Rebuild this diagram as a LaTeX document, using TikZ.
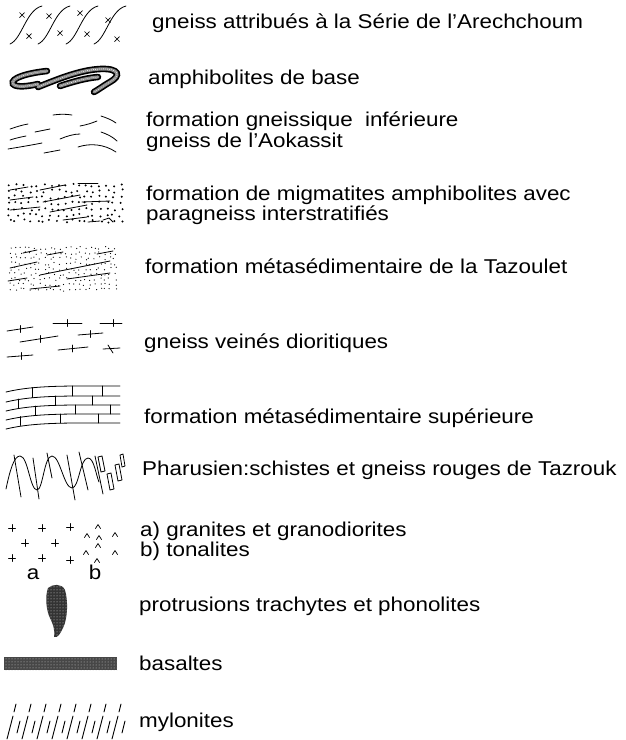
\documentclass[tikz,border=0pt]{standalone}
\usepackage{fontspec}
\setmainfont{Liberation Sans}[FakeStretch=1.12]
\usetikzlibrary{patterns}
\begin{document}
\begin{tikzpicture}[x=1pt,y=-1pt,
  lbl/.style={anchor=base west, inner sep=0pt, font=\fontsize{20}{22}\selectfont},
  sml/.style={anchor=base, inner sep=0pt, font=\fontsize{20}{22}\selectfont},
  sym/.style={line width=0.8pt, line cap=round, line join=round},
  worm/.style={line width=6.5pt, line cap=round, black},
  wormin/.style={line width=3.2pt, line cap=round, black!45},
  stip/.style={line width=0.9pt, line cap=round, white, dash pattern=on 0.01pt off 2pt}]
\useasboundingbox (0,0) rectangle (626,740);
\fill[white] (0,0) rectangle (626,740);

% ---------- 1 gneiss Arechchoum
\foreach \x in {10,38,66,94}
  \draw[sym] (\x,44) .. controls (\x+12,39) and (\x+16,10) .. (\x+32,6);
\foreach \p in {(22,15),(29,36),(49,16),(60,33),(80,13),(87,34),(108,20),(117,39)}
  \draw[sym,line width=0.7pt] \p ++(-2.5,-2.5) -- ++(5,5) \p ++(-2.5,2.5) -- ++(5,-5);

% ---------- 2 amphibolites de base
\foreach \s in {worm,wormin,stip}{
  \draw[\s] (47,71) .. controls (28,73) and (10,78) .. (13,84) .. controls (16,88) and (30,86) .. (38,84);
  \draw[\s] (38,87) .. controls (58,79) and (80,70) .. (100,69) .. controls (120,68) and (121,76) .. (110,82) .. controls (103,86) and (98,90) .. (94,92);
  \draw[\s] (60,86) .. controls (72,82) and (86,78) .. (98,77);
}

% ---------- 3 formation gneissique inferieure
\draw[sym] (10,129) .. controls (16,127) and (22,125) .. (28,124);
\draw[sym] (35,132) -- (50,129);
\draw[sym] (53,115) .. controls (60,114) and (66,114) .. (72,115);
\draw[sym] (80,126) .. controls (86,125) and (92,123) .. (97,121);
\draw[sym] (101,116) .. controls (107,118) and (112,120) .. (116,123);
\draw[sym] (10,140) .. controls (16,138) and (21,137) .. (26,136);
\draw[sym] (60,139) .. controls (67,136) and (74,134) .. (80,134);
\draw[sym] (101,132) .. controls (107,134) and (113,137) .. (117,141);
\draw[sym] (8,149) .. controls (20,147) and (32,145) .. (42,143);
\draw[sym] (44,153) -- (60,150);
\draw[sym] (78,147) .. controls (90,143) and (104,144) .. (116,152);

% ---------- 4 migmatites
\pgfmathsetseed{7}
\foreach \r in {0,...,6}
  \foreach \c in {0,...,16}{
    \pgfmathsetmacro\xx{9+7*\c+2.2*rand}
    \pgfmathsetmacro\yy{185+6*\r+1.6*rand}
    \fill (\xx,\yy) circle (1.1);
  }
\draw[sym] (10,190) -- (28,187);
\draw[sym] (40,190) -- (65,185);
\draw[sym] (78,183) -- (98,183);
\draw[sym] (10,200) -- (33,197);
\draw[sym] (43,202) -- (80,195);
\draw[sym] (82,202) -- (110,201);
\draw[sym] (10,210) -- (40,207);
\draw[sym] (50,212) -- (87,205);
\draw[sym] (63,220) -- (87,217);
\draw[sym] (88,222) -- (100,221);
\draw[sym] (103,220) -- (109,218) -- (113,222);

% ---------- 5 Tazoulet
\pgfmathsetseed{11}
\foreach \r in {0,...,8}
  \foreach \c in {0,...,21}{
    \pgfmathsetmacro\xx{10+5*\c+1.8*rand}
    \pgfmathsetmacro\yy{248+5.2*\r+1.6*rand}
    \fill (\xx,\yy) circle (0.62);
  }
\draw[sym] (23,253) -- (37,250);
\draw[sym] (47,255) -- (63,252);
\draw[sym] (97,254) -- (113,251);
\draw[sym] (10,268) -- (37,262);
\draw[sym] (40,275) -- (110,261);
\draw[sym] (8,281) -- (27,278);
\draw[sym] (67,279) -- (110,273);
\draw[sym] (30,289) -- (60,286);

% ---------- 6 gneiss veines dioritiques
\foreach \a/\b/\c/\d/\tx/\ty in {7/331/33/327/20/329, 53/323/82/323/67/323, 100/323/122/323/113/323,
  20/342/58/336/40/339, 78/335/103/333/90/334, 7/357/33/355/21/356, 58/350/88/347/72/348.5}{
  \draw[sym] (\a,\b) -- (\c,\d);
  \draw[sym] (\tx,\ty-3.5) -- (\tx,\ty+3.5);
}
\draw[sym] (103,349) -- (120,348);
\draw[sym] (108,345) -- (113,353);

% ---------- 7 brick
\foreach \y in {386,396,405,414,423}
  \draw[sym] (6,\y+6) .. controls (35,\y-1) and (70,\y) .. (120,\y);
\foreach \x/\ya/\yb in {32/387.5/397.5, 72/386/396, 102/386/396,
  18/399/408.5, 55/396/405, 92/396/405,
  35/406/415, 75/405/414, 110/405/414,
  20/416.5/425.5, 60/414/423, 98/414/423}
  \draw[sym] (\x,\ya) -- (\x,\yb);

% ---------- 8 Pharusien
\draw[sym] (6,489) .. controls (10,470) and (14,456) .. (20,456)
  .. controls (28,456) and (30,490) .. (37,490)
  .. controls (43,490) and (44,456) .. (52,456)
  .. controls (60,456) and (64,488) .. (72,488)
  .. controls (79,488) and (80,458) .. (88,458)
  .. controls (94,458) and (96,475) .. (99,482);
\foreach \a/\b/\c/\d in {14/455/21/497, 33/458/39/499, 47/453/52/478, 67/455/75/500, 79/452/88/490, 95/456/103/494}
  \draw[sym] (\a,\b) -- (\c,\d);
\draw[sym] (98,457) -- (102,456) -- (105,471) -- (101,472) -- cycle;
\draw[sym] (107,474) -- (111,473) -- (114,489) -- (110,490) -- cycle;
\draw[sym] (115,465) -- (119,464) -- (122,480) -- (118,481) -- cycle;
\draw[sym] (120,455) -- (123,454) -- (125,466) -- (122,467) -- cycle;

% ---------- 9 granites / tonalites
\foreach \p in {(12,528),(42,528),(70,527),(25,543),(55,543),(12,558),(42,558),(70,560)}
  \draw[sym,line width=0.9pt] \p ++(-3.5,0) -- ++(7,0) \p ++(0,-3.5) -- ++(0,7);
\foreach \p in {(87,535),(98,526),(99,537),(115,534),(86,552),(98,545),(115,552),(97,560)}
  \draw[sym,line width=0.7pt] \p ++(-2.5,2.5) -- ++(2.5,-4) -- ++(2.5,4);
\node[sml] (la) at (33,579) {a};
\node[sml] (lb) at (95,579) {b};

% ---------- 10 protrusion
\path[fill=black!80] (48,588) .. controls (52,584) and (62,583) .. (65,590)
  .. controls (68,600) and (68,618) .. (63,628)
  .. controls (60,634) and (58,638) .. (54,637)
  .. controls (55,632) and (54,626) .. (50,618)
  .. controls (46,610) and (45,596) .. (48,588) -- cycle;
\path[pattern=dots, pattern color=white!85!black] (48,588) .. controls (52,584) and (62,583) .. (65,590)
  .. controls (68,600) and (68,618) .. (63,628)
  .. controls (60,634) and (58,638) .. (54,637)
  .. controls (55,632) and (54,626) .. (50,618)
  .. controls (46,610) and (45,596) .. (48,588) -- cycle;

% ---------- 11 basaltes
\fill[black!72] (4,657) rectangle (117,670);
\fill[pattern=dots, pattern color=white!80!black] (4,657) rectangle (117,670);

% ---------- 12 mylonites
\foreach \i in {0,...,7}{
  \pgfmathsetmacro\xb{7+15*\i}
  \draw[sym,line width=0.9pt] (\xb,739) -- (\xb+6,716);
  \draw[sym,line width=0.9pt] (\xb+7,712) -- (\xb+9,704);
  \draw[sym,line width=0.9pt] (\xb+10,733) -- (\xb+13,721);
}

% ---------- texts
\node[lbl] (t1) at (152,28) {gneiss attribués à la Série de l’Arechchoum};
\node[lbl] (t2) at (148,84) {amphibolites de base};
\node[lbl] (t3a) at (146,126) {formation gneissique\hspace{0.3em} inférieure};
\node[lbl] (t3b) at (146,147) {gneiss de l’Aokassit};
\node[lbl] (t4a) at (146,200) {formation de migmatites amphibolites avec};
\node[lbl] (t4b) at (146,220) {paragneiss interstratifiés};
\node[lbl] (t5) at (145,273) {formation métasédimentaire de la Tazoulet};
\node[lbl] (t6) at (144,348) {gneiss veinés dioritiques};
\node[lbl] (t7) at (144,423) {formation métasédimentaire supérieure};
\node[lbl] (t8) at (142,475) {Pharusien:schistes et gneiss rouges de Tazrouk};
\node[lbl] (t9a) at (140,536) {a) granites et granodiorites};
\node[lbl] (t9b) at (140,556) {b) tonalites};
\node[lbl] (t10) at (139,611) {protrusions trachytes et phonolites};
\node[lbl] (t11) at (139,670) {basaltes};
\node[lbl] (t12) at (139,727) {mylonites};
\end{tikzpicture}
\end{document}
